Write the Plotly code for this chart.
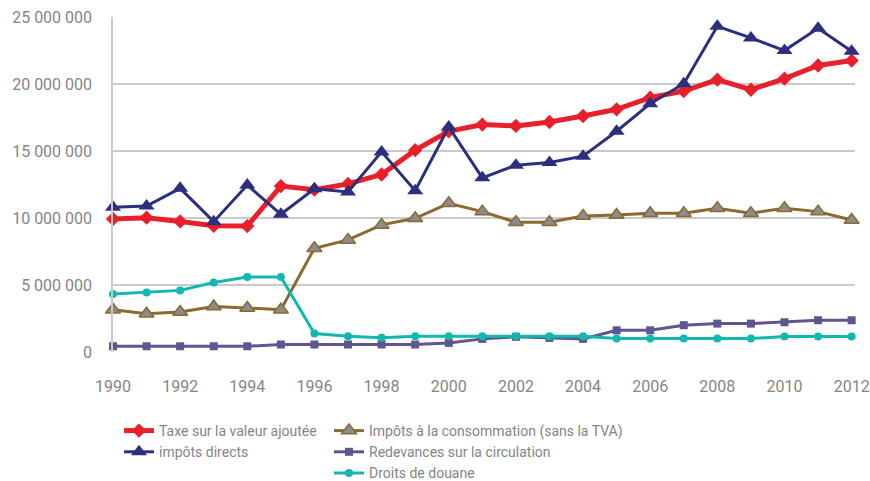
import plotly.graph_objects as go

years = list(range(1990, 2013))

tva = [9.93, 10.03, 9.75, 9.42, 9.40, 12.39, 12.12, 12.55, 13.25, 15.07, 16.48, 16.98, 16.88,
       17.17, 17.62, 18.12, 18.99, 19.48, 20.33, 19.58, 20.41, 21.39, 21.76]
directs = [10.80, 10.90, 12.22, 9.73, 12.46, 10.28, 12.18, 11.95, 14.94, 12.04, 16.80, 13.00, 13.95,
           14.15, 14.62, 16.48, 18.54, 20.03, 24.32, 23.45, 22.50, 24.17, 22.45]
consommation = [3.16, 2.86, 2.99, 3.39, 3.29, 3.16, 7.75, 8.37, 9.49, 9.98, 11.10, 10.48, 9.69,
                9.69, 10.16, 10.23, 10.36, 10.36, 10.73, 10.36, 10.73, 10.48, 9.86]
redevances = [0.43, 0.43, 0.43, 0.43, 0.43, 0.56, 0.56, 0.56, 0.56, 0.56, 0.68, 0.98, 1.13,
              1.05, 0.98, 1.62, 1.62, 2.00, 2.12, 2.12, 2.22, 2.37, 2.37]
douane = [4.33, 4.45, 4.60, 5.19, 5.60, 5.60, 1.38, 1.18, 1.06, 1.18, 1.18, 1.18, 1.18,
          1.18, 1.18, 1.00, 1.00, 1.00, 1.00, 1.00, 1.15, 1.15, 1.15]

names = ["Taxe sur la valeur ajoutée", "impôts directs", "Impôts à la consommation (sans la TVA)",
         "Redevances sur la circulation", "Droits de douane"]

x_ticks = list(range(1990, 2013, 2))
y_ticks = [0, 5_000_000, 10_000_000, 15_000_000, 20_000_000, 25_000_000]

FONT = "Roboto, sans-serif"
GREY = "#858585"

def m(vals):
    return [v * 1_000_000 for v in vals]

fig = go.Figure()
fig.add_trace(go.Scatter(x=years, y=m(tva), name=names[0], mode="lines+markers",
                         line=dict(color="#E8202C", width=5),
                         marker=dict(symbol="diamond", size=11, color="#E8202C"),
                         legend="legend", cliponaxis=False))
fig.add_trace(go.Scatter(x=years, y=m(directs), name=names[1], mode="lines+markers",
                         line=dict(color="#2B2F7E", width=3),
                         marker=dict(symbol="triangle-up", size=14, color="#2B2F7E"),
                         legend="legend", cliponaxis=False))
fig.add_trace(go.Scatter(x=years, y=m(consommation), name=names[2], mode="lines+markers",
                         line=dict(color="#8A6A30", width=3),
                         marker=dict(symbol="triangle-up", size=13, color="#8C8C8C",
                                     line=dict(color="#8A6A30", width=1.5)),
                         legend="legend2", cliponaxis=False))
fig.add_trace(go.Scatter(x=years, y=m(redevances), name=names[3], mode="lines+markers",
                         line=dict(color="#5E5690", width=3),
                         marker=dict(symbol="square", size=8, color="#5E5690"),
                         legend="legend2", cliponaxis=False))
fig.add_trace(go.Scatter(x=years, y=m(douane), name=names[4], mode="lines+markers",
                         line=dict(color="#12B8B0", width=3),
                         marker=dict(symbol="circle", size=8, color="#12B8B0"),
                         legend="legend2", cliponaxis=False))

PL, PR, PT, PB = 113, 855, 17, 352  # plot area in pixels
W, H = 870, 481

def px_x(px):
    return (px - PL) / (PR - PL)

def px_y(py):
    return (PB - py) / (PB - PT)

fig.update_layout(
    width=W, height=H,
    margin=dict(l=PL, r=W - PR, t=PT, b=H - PB, autoexpand=False),
    paper_bgcolor="white", plot_bgcolor="white",
    separators=". ",
    font=dict(family=FONT, size=16, color=GREY),
    xaxis=dict(range=[1990, 2012.1], tickvals=x_ticks, showgrid=False, zeroline=False,
               ticks="outside", ticklen=20, tickcolor="rgba(0,0,0,0)",
               tickfont=dict(size=16, color=GREY), automargin=False),
    yaxis=dict(range=[0, 25_010_000], tickvals=y_ticks, tickformat=",d",
               showgrid=True, gridcolor="#CACACA", gridwidth=1.5, zeroline=False,
               showline=True, linecolor="#CACACA", linewidth=1.5,
               ticks="outside", ticklen=16, tickcolor="rgba(0,0,0,0)",
               tickfont=dict(size=16, color=GREY), automargin=False),
    legend=dict(x=px_x(119), y=px_y(415), xanchor="left", yanchor="top", orientation="v",
                font=dict(family=FONT, size=14, color=GREY), tracegroupgap=0,
                bgcolor="rgba(0,0,0,0)"),
    legend2=dict(x=px_x(329), y=px_y(415), xanchor="left", yanchor="top", orientation="v",
                 font=dict(family=FONT, size=14, color=GREY), tracegroupgap=0,
                 bgcolor="rgba(0,0,0,0)"),
)

fig.write_html("out.html", config={"displayModeBar": False},
               post_script="document.body.style.margin='0';document.body.style.overflow='hidden';")
